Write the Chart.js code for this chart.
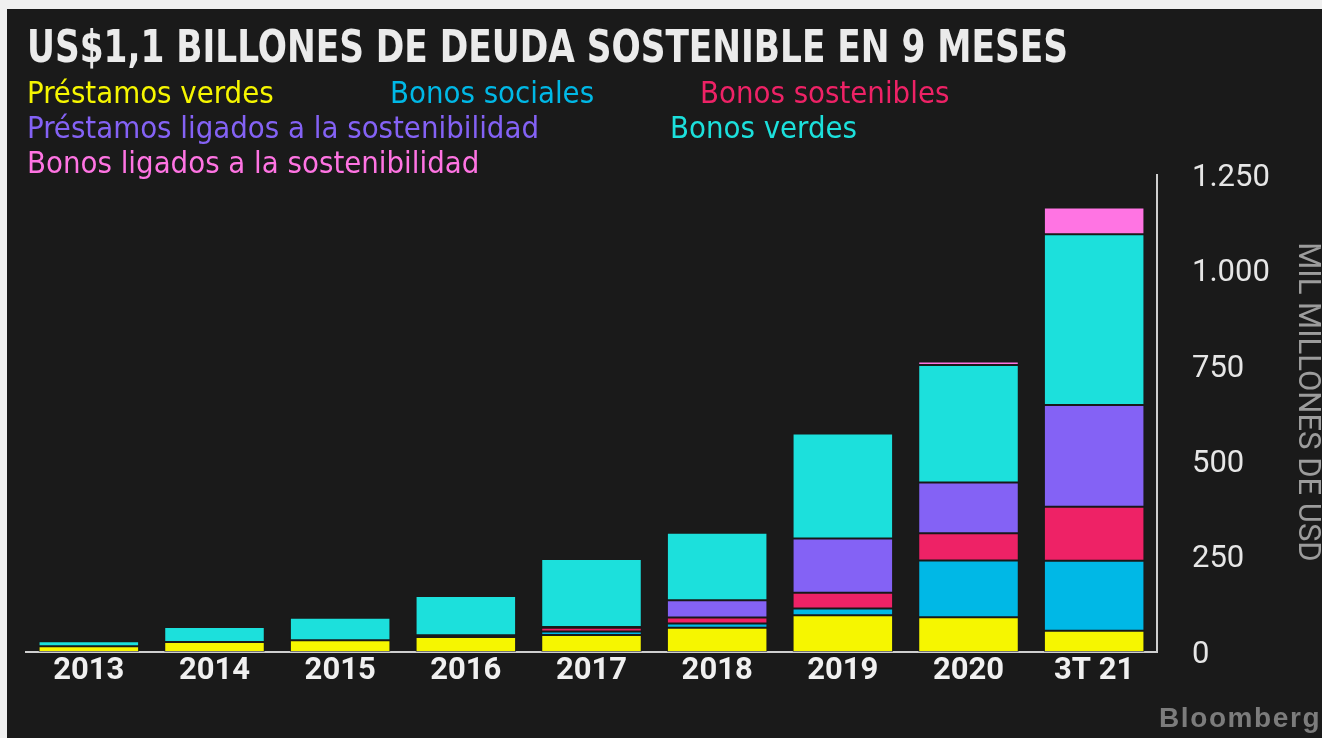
<!DOCTYPE html>
<html>
<head>
<meta charset="utf-8">
<script src="https://cdn.jsdelivr.net/npm/chart.js@4/dist/chart.umd.min.js"></script>
<style>
  html, body { margin: 0; padding: 0; }
  body { width: 1322px; height: 738px; background: #f0f0f0; position: relative; overflow: hidden; }
  #panel { position: absolute; left: 7px; top: 9px; right: 0; bottom: 0; background: #1a1a1a; }
  #chart { position: absolute; left: 0; top: 0; }
  .txt { position: absolute; white-space: nowrap; transform-origin: 0 0; }
  #title { left: 27px; top: 25px; font: bold 44px "Liberation Sans Narrow", "DejaVu Sans Condensed", "Roboto", sans-serif; line-height: 44px; color: #ebebeb; }
  .leg { font: 30px "Liberation Sans Narrow", "DejaVu Sans Condensed", "Roboto", sans-serif; line-height: 30px; }
  #logo { left: 1159px; top: 704px; font: bold 28px "Liberation Sans", Arial, sans-serif; line-height: 28px; color: #7c7c7c; letter-spacing: 1.6px; }
</style>
</head>
<body>
<div id="panel"></div>
<canvas id="chart" width="1322" height="738"></canvas>
<div id="title" class="txt">US$1,1 BILLONES DE DEUDA SOSTENIBLE EN 9 MESES</div>
<div id="logo" class="txt">Bloomberg</div>
<script>
// ---- data ----
const categories = ['2013', '2014', '2015', '2016', '2017', '2018', '2019', '2020', '3T 21'];
const seriesNames = ['Préstamos verdes', 'Bonos sociales', 'Bonos sostenibles',
                     'Préstamos ligados a la sostenibilidad', 'Bonos verdes', 'Bonos ligados a la sostenibilidad'];
const prestamosVerdes      = [15, 26, 31, 39, 44.5, 63.5, 96, 91, 56];
const bonosSociales        = [0, 0, 0, 1, 9, 11.5, 18, 149, 183];
const bonosSostenibles     = [0, 0, 0, 4, 10, 15.5, 41, 71, 141.5];
const prestamosLigados     = [0, 0, 0, 0, 2, 45, 142.5, 133, 266.5];
const bonosVerdes          = [13, 39.5, 59, 103, 178, 177, 275, 308, 448];
const bonosLigados         = [0, 0, 0, 0, 0, 0, 0, 9, 70];
const yTicks = [0, 250, 500, 750, 1000, 1250];
const yTitle = 'MIL MILLONES DE USD';

// ---- styles ----
const colors = ['#f6f600', '#00b8e6', '#ee2266', '#8462f5', '#1ce0dc', '#ff74e3'];
const legendPos = [[27, 78], [390, 78], [700, 78], [27, 113], [670, 113], [27, 148]];
const legendTargetWidth = 512; // width of longest item in reference

const values = [prestamosVerdes, bonosSociales, bonosSostenibles, prestamosLigados, bonosVerdes, bonosLigados];

// legend (HTML text)
const legEls = seriesNames.map((n, i) => {
  const d = document.createElement('div');
  d.className = 'txt leg';
  d.textContent = n;
  d.style.color = colors[i];
  d.style.left = legendPos[i][0] + 'px';
  d.style.top = legendPos[i][1] + 'px';
  document.body.appendChild(d);
  return d;
});
const legScale = legendTargetWidth / legEls[3].getBoundingClientRect().width;
legEls.forEach(d => d.style.transform = 'scaleX(' + legScale + ')');
const t = document.getElementById('title');
t.style.transform = 'scaleX(' + (1041 / t.getBoundingClientRect().width) + ')';

function fmt(v) {
  return String(v).replace(/\B(?=(\d{3})+(?!\d))/g, '.');
}

const datasets = seriesNames.map((n, i) => ({
  label: n,
  data: values[i].map(v => v === 0 ? null : v),
  backgroundColor: colors[i],
  borderColor: 'rgba(26,26,26,0.5)',
  borderWidth: 1,
  borderSkipped: false,
  categoryPercentage: 0.8,
  barPercentage: 1.0
}));

new Chart(document.getElementById('chart'), {
  type: 'bar',
  data: { labels: categories, datasets },
  options: {
    responsive: false,
    animation: false,
    devicePixelRatio: 1,
    layout: { padding: { left: 26, top: 175, right: 0, bottom: 0 } },
    plugins: { legend: { display: false }, tooltip: { enabled: false }, title: { display: false } },
    scales: {
      x: {
        stacked: true,
        grid: { display: false, drawTicks: false },
        border: { display: true, color: '#cfcfcf', width: 2 },
        ticks: { color: '#f0f0f0', padding: 4, font: { family: 'Roboto', weight: 'bold', size: 31, lineHeight: 1 } },
        afterFit: s => { s.height = 86; }
      },
      y: {
        stacked: true,
        position: 'right',
        min: 0,
        max: 1250,
        afterBuildTicks: s => { s.ticks = yTicks.map(v => ({ value: v })); },
        grid: { display: false, drawTicks: false },
        border: { display: true, color: '#cfcfcf', width: 2 },
        ticks: { color: '#e6e6e6', padding: 35, font: { family: 'Roboto', size: 31, lineHeight: 0.2 }, callback: v => ['', fmt(v)] },
        title: { display: true, text: yTitle + '   ', color: '#9c9c9c', font: { family: 'Roboto', size: 31, lineHeight: 1 }, padding: { top: 0, bottom: 1 } },
        afterFit: s => { s.width = 165; }
      }
    }
  }
});
</script>
</body>
</html>
